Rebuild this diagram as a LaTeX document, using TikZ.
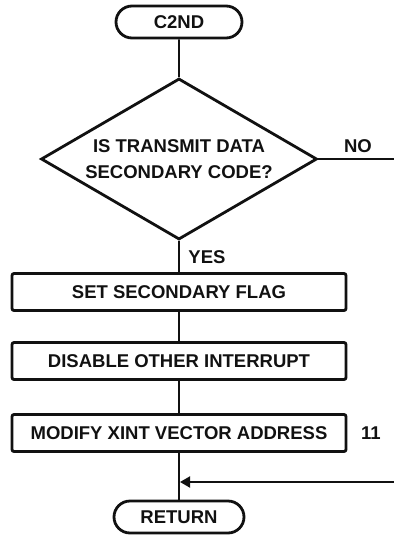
\documentclass[tikz,border=0pt]{standalone}
\usepackage{fontspec}
\setmainfont{Liberation Sans}
\usetikzlibrary{arrows.meta,positioning,shapes.geometric,shapes.misc}
\definecolor{ink}{HTML}{111111}
\tikzset{
  lbl/.style={font=\fontsize{18.5}{26}\selectfont\bfseries,text=ink},
  term/.style={lbl,draw=ink,line width=2.8pt,rounded rectangle,minimum height=32pt,inner sep=0pt},
  proc/.style={lbl,draw=ink,line width=2.8pt,rounded corners=2pt,minimum width=334pt,minimum height=37pt,inner sep=0pt},
  decide/.style={lbl,draw=ink,line width=2.8pt,diamond,shape aspect=1.72,minimum width=276pt,minimum height=161pt,inner sep=0pt,align=center},
  flow/.style={draw=ink,line width=1.9pt}
}
\begin{document}
\begin{tikzpicture}[x=1pt,y=-1pt]
    \useasboundingbox (0,0) rectangle (394,555);
    % terminals and steps
    \node[term,minimum width=126pt] (start) at (179,22) {C2ND};
    \node[decide] (isSec) at (179,159) {IS TRANSMIT DATA\\SECONDARY CODE?};
    \node[proc] (setFlag) at (179,292) {SET SECONDARY FLAG};
    \node[proc] (disInt) at (179,361) {DISABLE OTHER INTERRUPT};
    \node[proc] (modVec) at (179,433) {MODIFY XINT VECTOR ADDRESS};
    \node[term,minimum width=130pt] (ret) at (179,517) {RETURN};
    % labels
    \node[lbl] (noLbl) at (358,146) {NO};
    \node[lbl] (yesLbl) at (207,257) {YES};
    \node[lbl] (refNum) at (371,433) {11};
    % free ends
    \coordinate (noOut) at (394,159);
    \coordinate (backIn) at (394,482);
    \coordinate (merge) at (180,482);
    % connectors
    \draw[flow] (start) -- (isSec);
    \draw[flow] (isSec.south) -- (setFlag);
    \draw[flow] (setFlag) -- (disInt);
    \draw[flow] (disInt) -- (modVec);
    \draw[flow] (modVec) -- (ret);
    \draw[flow] (isSec.east) -- (noOut);
    \draw[flow,-{Triangle[length=10pt,width=11pt]}] (backIn) -- (merge);
\end{tikzpicture}
\end{document}
